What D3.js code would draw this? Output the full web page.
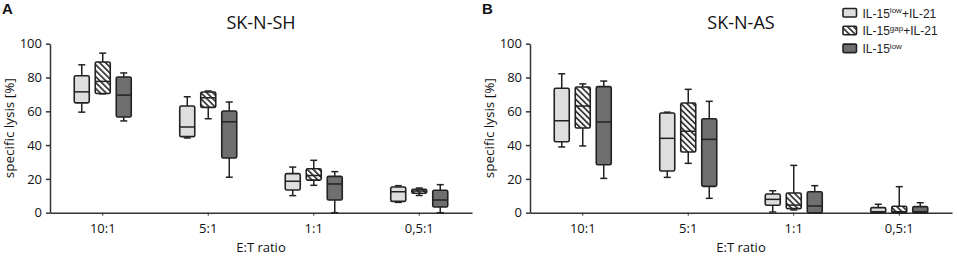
<!DOCTYPE html>
<html><head><meta charset="utf-8">
<script src="https://cdn.jsdelivr.net/npm/d3@7"></script>
<style>body{margin:0;background:#fff}svg{display:block}</style>
</head><body>
<svg id="c" width="957" height="261"></svg>
<script>
const categories = ["10:1","5:1","1:1","0,5:1"];
const groups = ["low21","gap21","low"];
const yTicks = [0,20,40,60,80,100];
// [min, q1, median, q3, max] per category per group
const shLow21 = [[59.5,65,71.5,81,87.5],[44.2,45,50.7,63.1,68.6],[10.1,13.4,18.6,23.1,27],[6.1,6.7,12.4,15.2,16]];
const shGap21 = [[70.3,70.5,77.7,89.2,94.4],[55.6,62.3,68,71.4,72],[16.2,19.3,22,26,31],[10.2,11.5,12.8,13.8,14.6]];
const shLow   = [[54.3,56.6,69.6,80.3,82.7],[21,32.4,53.8,60.2,65.5],[0,7.5,17,21.5,24.3],[0,3.4,7.5,13.3,16.6]];
const asLow21 = [[38.9,42,54.4,73.6,82.2],[20.9,24.7,44,59,59.5],[0.4,4.4,7.9,11.1,13],[0,0,0.6,3,5]];
const asGap21 = [[39.5,50.1,63.1,74.4,76.2],[29.2,35.9,48.2,64.9,73],[1.6,2.4,4.5,11.7,28],[0,0,0.6,3.8,15.4]];
const asLow   = [[20.3,28.4,53.7,74.6,77.9],[8.5,15.6,43.4,55.6,65.9],[0,0,4,12.4,16],[0,0,0.6,3.6,5.9]];

const svg = d3.select("#c");
const defs = svg.append("defs");
const pat = defs.append("pattern").attr("id","hatch").attr("patternUnits","userSpaceOnUse")
  .attr("width",4.2).attr("height",4.2).attr("patternTransform","rotate(-45)");
pat.append("rect").attr("width",4.2).attr("height",4.2).attr("fill","#fff");
pat.append("rect").attr("x",0).attr("y",0).attr("width",1.8).attr("height",4.2).attr("fill","#3a3a3a");

const fills = {low21:"#dedede", gap21:"url(#hatch)", low:"#6f6f6f"};
const font = "'Open Sans', sans-serif";

function panel(x0, x1, letter, title, data, showLegend){
  const g = svg.append("g");
  const y = d3.scaleLinear().domain([0,100]).range([212.7,43.7]);
  const x = d3.scaleBand().domain(categories).range([x0,x1]);
  const off = d3.scalePoint().domain(groups).range([-21,21]);
  const bw = 15;

  g.append("text").attr("x",x0-48).attr("y",14).attr("font-family","'Liberation Sans', Arial, sans-serif")
    .attr("font-weight","bold").attr("font-size",15).attr("fill","#111").text(letter);
  g.append("text").attr("x",(x0+x1)/2).attr("y",28.5).attr("text-anchor","middle")
    .attr("font-family",font).attr("font-size",18).attr("fill","#111").text(title);

  const ya = g.append("g").attr("transform",`translate(${x0},0)`)
    .call(d3.axisLeft(y).tickValues(yTicks).tickSize(4).tickPadding(4).tickSizeOuter(0));
  ya.selectAll("text").attr("font-family",font).attr("font-size",13).attr("fill","#111");
  ya.selectAll("line,path").attr("stroke","#333").attr("stroke-width",1.5);

  const xa = g.append("g").attr("transform",`translate(0,212.7)`)
    .call(d3.axisBottom(x).tickSize(3).tickPadding(8).tickSizeOuter(0));
  xa.selectAll("text").attr("font-family",font).attr("font-size",13).attr("fill","#111");
  xa.selectAll("path").attr("stroke","#333").attr("stroke-width",1.5);
  xa.selectAll("line").attr("stroke","#333").attr("stroke-width",1);

  g.append("text").attr("x",(x0+x1)/2).attr("y",252).attr("text-anchor","middle")
    .attr("font-family",font).attr("font-size",13).attr("fill","#111").text("E:T ratio");
  g.append("text").attr("transform",`translate(${x0-36},${(43.7+212.7)/2}) rotate(-90)`)
    .attr("text-anchor","middle").attr("font-family",font).attr("font-size",13.5).attr("fill","#111")
    .text("specific lysis [%]");

  groups.forEach((gr,gi)=>{
    data[gi].forEach((d,ci)=>{
      const cx = x(categories[ci]) + x.bandwidth()/2 + off(gr);
      const b = g.append("g");
      b.append("line").attr("x1",cx).attr("x2",cx).attr("y1",y(d[4])).attr("y2",y(d[0]))
        .attr("stroke","#222").attr("stroke-width",1.5);
      b.append("line").attr("x1",cx-3.5).attr("x2",cx+3.5).attr("y1",y(d[4])).attr("y2",y(d[4]))
        .attr("stroke","#222").attr("stroke-width",1.5);
      b.append("line").attr("x1",cx-3.5).attr("x2",cx+3.5).attr("y1",y(d[0])).attr("y2",y(d[0]))
        .attr("stroke","#222").attr("stroke-width",1.5);
      const h = Math.max(y(d[1])-y(d[3]),1.5);
      b.append("rect").attr("x",cx-bw/2).attr("y",y(d[3])).attr("width",bw).attr("height",h)
        .attr("rx",1.5).attr("fill",fills[gr]).attr("stroke","#222").attr("stroke-width",1.6);
      b.append("line").attr("x1",cx-bw/2).attr("x2",cx+bw/2).attr("y1",y(d[2])).attr("y2",y(d[2]))
        .attr("stroke","#222").attr("stroke-width",1.5);
    });
  });

  if(showLegend){
    const lg = g.append("g");
    const items = [["low21","low","+IL-21"],["gap21","gap","+IL-21"],["low","low",""]];
    items.forEach((it,i)=>{
      const yy = 8.5 + i*17.8;
      lg.append("rect").attr("x",843).attr("y",yy).attr("width",13.5).attr("height",8.5).attr("rx",1)
        .attr("fill",fills[it[0]]).attr("stroke","#222").attr("stroke-width",1.6);
      const t = lg.append("text").attr("x",862.5).attr("y",yy+9).attr("font-family","'Liberation Sans', Arial, sans-serif")
        .attr("font-size",12).attr("fill","#222");
      t.append("tspan").text("IL-15");
      t.append("tspan").attr("font-size",8).attr("dy",-4.5).text(it[1]);
      if(it[2]) t.append("tspan").attr("dy",4.5).text(it[2]);
    });
  }
}
panel(50, 472, "A", "SK-N-SH", [shLow21, shGap21, shLow], false);
panel(530, 952, "B", "SK-N-AS", [asLow21, asGap21, asLow], true);
</script>
</body></html>
